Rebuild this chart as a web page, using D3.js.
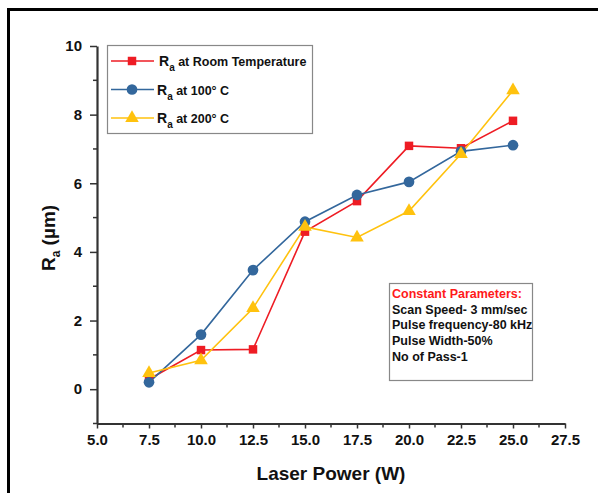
<!DOCTYPE html>
<html>
<head>
<meta charset="utf-8">
<script src="https://cdn.jsdelivr.net/npm/d3@7/dist/d3.min.js"></script>
<style>
  html, body { margin: 0; padding: 0; background: #fff; }
  svg { display: block; font-family: "Liberation Sans", Arial, sans-serif; }
</style>
</head>
<body>
<svg id="chart" width="598" height="493"></svg>
<script>
// Laser power settings (W)
const laserPower = [7.5, 10.0, 12.5, 15.0, 17.5, 20.0, 22.5, 25.0];

// Surface roughness Ra (µm) for each substrate temperature
const raRoomTemp = [0.29, 1.14, 1.16, 4.59, 5.48, 7.09, 7.02, 7.82];
const ra100C     = [0.20, 1.59, 3.47, 4.88, 5.66, 6.04, 6.93, 7.11];
const ra200C     = [0.47, 0.84, 2.36, 4.73, 4.42, 5.19, 6.85, 8.71];

// Axis ticks
const xTicks = [5.0, 7.5, 10.0, 12.5, 15.0, 17.5, 20.0, 22.5, 25.0, 27.5];
const yTicks = [0, 2, 4, 6, 8, 10];

// Notes on the fixed process settings
const paramTitle = "Constant Parameters:";
const paramLines = ["Scan Speed- 3 mm/sec", "Pulse frequency-80 kHz", "Pulse Width-50%", "No of Pass-1"];

const series = [
  { name: "at Room Temperature", values: raRoomTemp, color: "#ee1c24", symbol: d3.symbolSquare, size: 72 },
  { name: "at 100° C",           values: ra100C,     color: "#33679c", symbol: d3.symbolCircle, size: 90 },
  { name: "at 200° C",           values: ra200C,     color: "#ffc20e", symbol: d3.symbolTriangle, size: 80 }
];

const svg = d3.select("#chart");

// Outer frame (top and left edges)
svg.append("line").attr("x1", 8).attr("x2", 598).attr("y1", 9.5).attr("y2", 9.5)
  .attr("stroke", "#000").attr("stroke-width", 3);
svg.append("line").attr("x1", 8.5).attr("x2", 8.5).attr("y1", 8).attr("y2", 493)
  .attr("stroke", "#000").attr("stroke-width", 3);

const x = d3.scaleLinear().domain([5, 27.5]).range([97, 565]);
const y = d3.scaleLinear().domain([-1, 10]).range([423.5, 46]);

const axisColor = "#333";

// Minor ticks
const xMinor = d3.range(6.25, 27.5, 2.5);
const yMinor = [-1, 1, 3, 5, 7, 9];
svg.append("g").selectAll("line").data(xMinor).join("line")
  .attr("x1", d => x(d)).attr("x2", d => x(d)).attr("y1", y(-1)).attr("y2", y(-1) + 4)
  .attr("stroke", axisColor).attr("stroke-width", 1.5);
svg.append("g").selectAll("line").data(yMinor).join("line")
  .attr("x1", x(5) - 4).attr("x2", x(5)).attr("y1", d => y(d)).attr("y2", d => y(d))
  .attr("stroke", axisColor).attr("stroke-width", 1.5);

// X axis
const xAxis = svg.append("g").attr("transform", `translate(0,${y(-1)})`)
  .call(d3.axisBottom(x).tickValues(xTicks).tickFormat(d3.format(".1f")).tickSizeInner(5).tickSizeOuter(0).tickPadding(6));
xAxis.select(".domain").attr("stroke", axisColor).attr("stroke-width", 2.2);
xAxis.selectAll(".tick line").attr("stroke", axisColor).attr("stroke-width", 1.5);
xAxis.selectAll(".tick text").attr("fill", "#111").attr("font-size", 15).attr("font-weight", "bold")
  .attr("font-family", "Liberation Sans, Arial, sans-serif");

// Y axis
const yAxis = svg.append("g").attr("transform", `translate(${x(5)},0)`)
  .call(d3.axisLeft(y).tickValues(yTicks).tickFormat(d3.format("d")).tickSizeInner(7).tickSizeOuter(0).tickPadding(8));
yAxis.select(".domain").attr("stroke", axisColor).attr("stroke-width", 2.2);
yAxis.selectAll(".tick line").attr("stroke", axisColor).attr("stroke-width", 1.5);
yAxis.selectAll(".tick text").attr("fill", "#111").attr("font-size", 15).attr("font-weight", "bold")
  .attr("font-family", "Liberation Sans, Arial, sans-serif");

// Axis titles
svg.append("text").attr("x", 331).attr("y", 480).attr("text-anchor", "middle")
  .attr("font-size", 19).attr("font-weight", "bold").attr("fill", "#111").text("Laser Power (W)");

const yTitle = svg.append("text").attr("transform", "translate(55,238) rotate(-90)")
  .attr("text-anchor", "middle").attr("font-size", 19).attr("font-weight", "bold").attr("fill", "#111");
yTitle.append("tspan").text("R");
yTitle.append("tspan").attr("font-size", 12).attr("dy", 5).text("a");
yTitle.append("tspan").attr("dy", -5).text(" (µm)");

// Series lines and markers
const line = d3.line().x((d, i) => x(laserPower[i])).y(d => y(d));
series.forEach(s => {
  svg.append("path").datum(s.values).attr("d", line)
    .attr("fill", "none").attr("stroke", s.color).attr("stroke-width", 1.6);
});
series.forEach(s => {
  svg.append("g").selectAll("path").data(s.values).join("path")
    .attr("transform", (d, i) => `translate(${x(laserPower[i])},${y(d)})`)
    .attr("d", d3.symbol().type(s.symbol).size(s.size))
    .attr("fill", s.color);
});

// Legend
const legend = svg.append("g");
legend.append("rect").attr("x", 107.5).attr("y", 45.5).attr("width", 205).attr("height", 88)
  .attr("fill", "#fff").attr("stroke", "#888").attr("stroke-width", 1.2);
series.forEach((s, i) => {
  const ly = 61 + i * 28.5;
  legend.append("line").attr("x1", 111).attr("x2", 154).attr("y1", ly).attr("y2", ly)
    .attr("stroke", s.color).attr("stroke-width", 1.6);
  legend.append("path").attr("transform", `translate(132,${ly})`)
    .attr("d", d3.symbol().type(s.symbol).size(s.size)).attr("fill", s.color);
  const t = legend.append("text").attr("x", i === 0 ? 159 : 157).attr("y", ly + 5)
    .attr("font-size", 14).attr("font-weight", "bold").attr("fill", "#111");
  t.append("tspan").text("R");
  t.append("tspan").attr("font-size", 10).attr("dy", 5).text("a");
  t.append("tspan").attr("dy", -5).attr("font-size", 12.5).text(" " + s.name);
});

// Constant parameters box
const note = svg.append("g");
note.append("rect").attr("x", 389.5).attr("y", 283.5).attr("width", 143).attr("height", 97)
  .attr("fill", "#fff").attr("stroke", "#888").attr("stroke-width", 1.2);
note.append("text").attr("x", 392).attr("y", 297.5).attr("font-size", 12.5).attr("font-weight", "bold")
  .attr("fill", "#ff1a1a").text(paramTitle);
paramLines.forEach((l, i) => {
  note.append("text").attr("x", 392).attr("y", 313.5 + i * 15.8).attr("font-size", 12.5)
    .attr("font-weight", "bold").attr("fill", "#111").text(l);
});
</script>
</body>
</html>
